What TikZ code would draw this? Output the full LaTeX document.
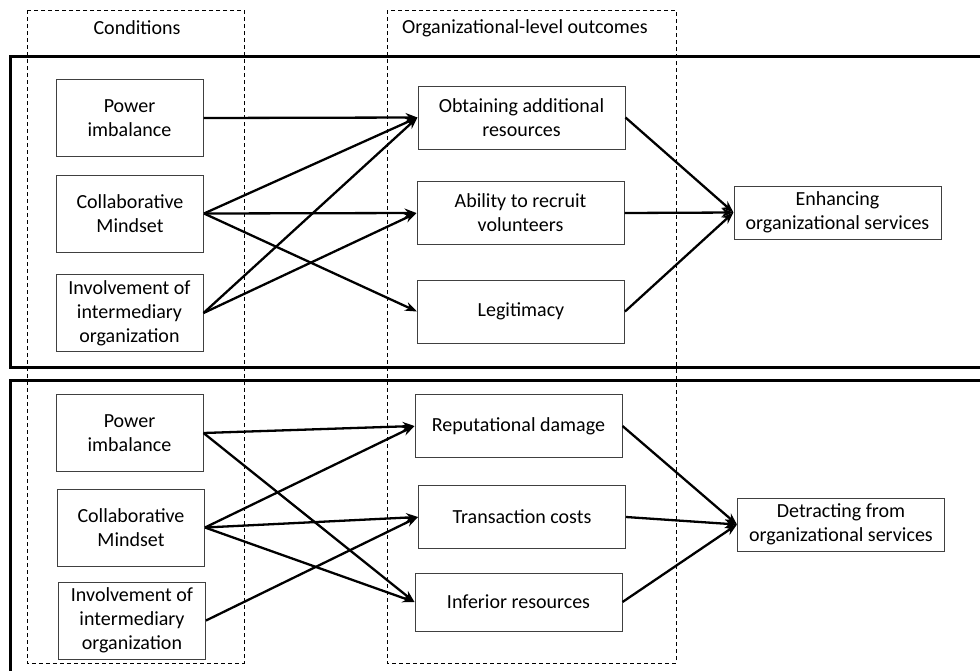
\documentclass[tikz,border=0pt]{standalone}
\usepackage{fontspec}
\setmainfont{Carlito}
\usetikzlibrary{arrows.meta}
\tikzset{>=latex}
\def\txt{\fontsize{20}{24}\selectfont}

\begin{document}
\begin{tikzpicture}[x=1pt, y=-1pt,
    box/.style={draw=black!75, line width=1pt, align=center, inner sep=1pt, font=\txt},
    condbox/.style={box, minimum width=147pt, minimum height=77pt},
    outbox/.style={box, minimum width=207pt, minimum height=63pt},
    effbox/.style={box, minimum width=207pt, minimum height=53pt},
    link/.style={-{Stealth[length=12pt, width=9pt]}, line width=2.3pt},
    frame/.style={line width=3pt},
    column/.style={dashed, dash pattern=on 4pt off 3pt, line width=0.8pt}]

\useasboundingbox (0, 0) rectangle (980, 670);

    % columns and groups
    \draw[frame] (10, 56) rectangle (990, 367);
    \draw[frame] (10, 380) rectangle (990, 690);
    \draw[column] (27, 10) rectangle (244, 663);
    \draw[column] (387, 10) rectangle (676, 663);

    \node[font=\txt] (condhead) at (137, 28) {Conditions};
    \node[font=\txt] (outhead) at (525, 28) {Organizational-level outcomes};

    % positive outcomes
    \node[condbox] (pwA) at (129.5, 118) {Power\\imbalance};
    \node[condbox] (colA) at (130, 213.5) {Collaborative\\Mindset};
    \node[condbox] (invA) at (129.5, 313) {Involvement of\\intermediary\\organization};

    \node[outbox] (resA) at (521.5, 117.5) {Obtaining additional\\resources};
    \node[outbox] (volA) at (520.5, 213) {Ability to recruit\\volunteers};
    \node[outbox] (legA) at (521, 311.5) {Legitimacy};

    \node[effbox] (enh) at (837.5, 212.5) {Enhancing\\organizational services};

    % negative outcomes
    \node[condbox] (pwB) at (129.5, 433) {Power\\imbalance};
    \node[condbox] (colB) at (131, 527.5) {Collaborative\\Mindset};
    \node[condbox] (invB) at (132, 620.5) {Involvement of\\intermediary\\organization};

    \node[outbox] (repB) at (518.5, 426) {Reputational damage};
    \node[outbox] (trcB) at (522, 517) {Transaction costs};
    \node[outbox, minimum height=58pt] (infB) at (518.5, 602) {Inferior resources};

    \node[effbox] (det) at (841, 524.5) {Detracting from\\organizational services};

\foreach \a/\b in {pwA/resA, colA/resA, colA/volA, colA/legA, invA/resA, invA/volA,
                   resA/enh, volA/enh, legA/enh,
                   pwB/repB, pwB/infB, colB/repB, colB/trcB, colB/infB, invB/trcB,
                   repB/det, trcB/det, infB/det} {
      \draw[link] (\a.east) -- (\b.west);
}

\end{tikzpicture}
\end{document}
